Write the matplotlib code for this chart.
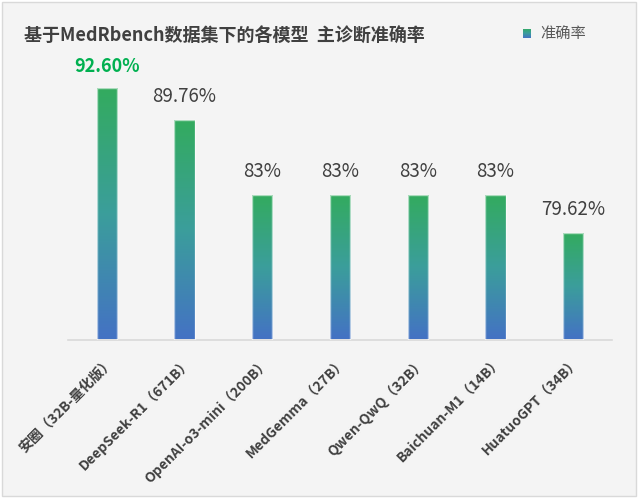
import matplotlib
matplotlib.use("Agg")
import matplotlib.pyplot as plt
import numpy as np
from matplotlib.colors import LinearSegmentedColormap
from matplotlib.patches import Rectangle

plt.rcParams['font.family'] = ['Noto Sans CJK SC', 'DejaVu Sans']

# data
models = ["安圈（32B-量化版）", "DeepSeek-R1（671B）", "OpenAI-o3-mini（200B）",
          "MedGemma（27B）", "Qwen-QwQ（32B）", "Baichuan-M1（14B）", "HuatuoGPT（34B）"]
accuracy = [92.60, 89.76, 83, 83, 83, 83, 79.62]
value_labels = ["92.60%", "89.76%", "83%", "83%", "83%", "83%", "79.62%"]

title = "基于MedRbench数据集下的各模型  主诊断准确率"
legend_label = "准确率"

fig = plt.figure(figsize=(6.4, 5), dpi=100)
fig.patch.set_facecolor("white")
# light panel with thin border
fig.patches.append(Rectangle((0.003, 0.008), 0.991, 0.988, transform=fig.transFigure,
                             facecolor="#f4f4f4", edgecolor="#d9d9d9", linewidth=1, zorder=-1))

ax = fig.add_axes([68 / 640, 1 - 339.5 / 500, 544 / 640, 333.5 / 500])
ax.set_facecolor("none")
ax.set_xlim(-0.5, len(models) - 0.5)
ax.set_ylim(70, 100)

cmap = LinearSegmentedColormap.from_list("g2b", ["#4472c4", "#3b9e9b", "#33ab5e"])
grad = np.linspace(0, 1, 256).reshape(-1, 1)

x = np.arange(len(models))
width = 0.26
bars = ax.bar(x, np.array(accuracy) - 70, bottom=70, width=width,
              facecolor="none", edgecolor=(1, 1, 1, 0.6), linewidth=1, zorder=3)
for bar in bars:
    x0, y0 = bar.get_x(), bar.get_y()
    im = ax.imshow(grad, cmap=cmap, origin="lower", aspect="auto",
                   extent=[x0, x0 + bar.get_width(), y0, y0 + bar.get_height()], zorder=2)
    im.set_clip_path(bar)

for i, (v, lab) in enumerate(zip(accuracy, value_labels)):
    if i == 0:
        ax.annotate(lab, (i, v), xytext=(0, 9), textcoords="offset points", ha="center",
                    va="bottom", fontsize=13, fontweight="bold", color="#00b050")
    else:
        ax.annotate(lab, (i, v), xytext=(0, 9), textcoords="offset points", ha="center",
                    va="bottom", fontsize=13.5, color="#404040")

for s in ["top", "right", "left"]:
    ax.spines[s].set_visible(False)
ax.spines["bottom"].set_color("#d9d9d9")
ax.spines["bottom"].set_linewidth(1.2)
ax.set_yticks([])
ax.set_xticks(x)
ax.set_xticklabels(models, rotation=45, ha="right", rotation_mode="anchor",
                   fontsize=10, fontweight="bold", color="#404040")
ax.tick_params(axis="x", length=0, pad=11)

fig.text(24 / 640, 1 - 35 / 500, title, fontsize=13, fontweight="bold",
         color="#404040", va="center", ha="left")

# legend swatch with gradient
lax = fig.add_axes([523 / 640, 1 - 38 / 500, 8 / 640, 9 / 500])
lax.imshow(grad, cmap=cmap, origin="lower", aspect="auto")
lax.axis("off")
fig.text(540 / 640, 1 - 33 / 500, legend_label, fontsize=11, color="#595959",
         va="center", ha="left")

plt.savefig("out.png", dpi=100)
plt.close()
